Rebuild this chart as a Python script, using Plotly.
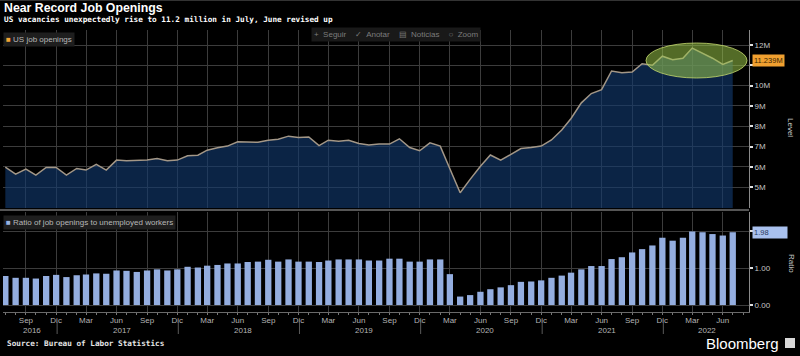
import plotly.graph_objects as go

# ---------------- data ----------------
all_months = [f"{y}-{m:02d}-01" for y in range(2016, 2023) for m in range(1, 13)]
months = all_months[all_months.index("2016-07-01"): all_months.index("2022-07-01") + 1]

# US job openings (millions)
openings = [5.98, 5.64, 5.89, 5.59, 5.97, 5.97, 5.59, 5.92, 5.84, 6.12, 5.84, 6.33,
            6.30, 6.30, 6.33, 6.41, 6.30, 6.33, 6.54, 6.57, 6.82, 6.94, 7.02, 7.23,
            7.21, 7.21, 7.31, 7.36, 7.51, 7.44, 7.47, 7.04, 7.31, 7.26, 7.31, 7.15,
            7.07, 7.12, 7.12, 7.38, 6.95, 6.79, 7.18, 7.02, 5.90, 4.72, 5.38, 6.03,
            6.58, 6.33, 6.61, 6.90, 6.95, 7.02, 7.32, 7.81, 8.38, 9.15, 9.61, 9.80,
            10.72, 10.63, 10.67, 11.08, 11.00, 11.45, 11.28, 11.35, 11.85, 11.60, 11.35, 11.04,
            11.239]

# Ratio of job openings to unemployed workers
ratio = [0.79, 0.74, 0.74, 0.72, 0.79, 0.82, 0.76, 0.81, 0.83, 0.86, 0.85, 0.94,
         0.93, 0.90, 0.94, 0.97, 0.94, 0.97, 1.04, 1.02, 1.07, 1.09, 1.13, 1.13,
         1.17, 1.18, 1.23, 1.18, 1.24, 1.18, 1.18, 1.17, 1.21, 1.24, 1.24, 1.24,
         1.21, 1.21, 1.26, 1.26, 1.18, 1.18, 1.24, 1.24, 0.84, 0.23, 0.27, 0.36,
         0.43, 0.48, 0.54, 0.63, 0.64, 0.67, 0.74, 0.80, 0.88, 0.97, 1.06, 1.06,
         1.25, 1.30, 1.43, 1.52, 1.62, 1.83, 1.75, 1.83, 2.00, 1.98, 1.93, 1.89,
         1.98]

tick_dates = months[2::3]
month_abbr = {"03": "Mar", "06": "Jun", "09": "Sep", "12": "Dic"}
tick_text = [month_abbr[d[5:7]] for d in tick_dates]

year_labels = ["2016", "2017", "2018", "2019", "2020", "2021", "2022"]
year_label_pos = ["2016-09-20", "2017-06-16", "2018-06-16", "2019-06-16",
                  "2020-06-16", "2021-06-16", "2022-04-15"]
year_sep_dates = ["2016-12-04", "2017-12-04", "2018-12-04", "2019-12-04",
                  "2020-12-04", "2021-12-04"]

level_ticks = [5, 6, 7, 8, 9, 10, 11, 12]
level_text = ["5M", "6M", "7M", "8M", "9M", "10M", "", "12M"]
ratio_ticks = [0, 1, 2]
ratio_text = ["0.00", "1.00", ""]

# ---------------- layout helpers ----------------
L, R, T, B, W, H = 3, 51, 30, 44, 800, 356
PW, PH = W - L - R, H - T - B


def px(x):
    return (x - L) / PW


def py(y):
    return (H - B - y) / PH


GRID = "#3c3c3c"
TXT = "#c4c4c4"
FONT = "Liberation Sans"
MONO = "DejaVu Sans Mono"
DAY = 86400000

fig = go.Figure()
fig.add_trace(go.Scatter(
    x=months, y=openings, mode="lines", xaxis="x", yaxis="y",
    line=dict(color="#a39787", width=1.5),
    fill="tozeroy", fillcolor="rgba(18,58,112,0.62)", hoverinfo="skip"))
fig.add_trace(go.Bar(
    x=months, y=ratio, xaxis="x2", yaxis="y2",
    width=[19 * DAY] * len(months),
    marker=dict(color="#94aee0", line_width=0), hoverinfo="skip"))

xrange = ["2016-06-24", "2022-08-19"]

fig.update_layout(
    width=W, height=H,
    margin=dict(l=L, r=R, t=T, b=B),
    paper_bgcolor="black", plot_bgcolor="black",
    showlegend=False,
    font=dict(family=FONT, color=TXT, size=8),
    xaxis=dict(domain=[0, 1], anchor="y", range=xrange, type="date",
               tickvals=tick_dates, showticklabels=False,
               showgrid=True, gridcolor=GRID, gridwidth=1,
               zeroline=False, showline=False, ticks=""),
    yaxis=dict(domain=[py(208), 1], anchor="x", side="right",
               range=[3.97, 12.74], tickvals=level_ticks, ticktext=level_text,
               showgrid=True, gridcolor=GRID, gridwidth=1, zeroline=False,
               showline=True, linecolor="#8a8a8a", linewidth=1,
               ticks="outside", ticklen=3, tickcolor="#e0e0e0", tickwidth=2,
               tickfont=dict(size=8, color=TXT)),
    xaxis2=dict(domain=[0, 1], anchor="y2", range=xrange, type="date",
                tickvals=tick_dates, ticktext=tick_text,
                tickfont=dict(size=8, color="#b4b4b4"),
                showgrid=True, gridcolor=GRID, gridwidth=1,
                zeroline=False, showline=True, linecolor="#6a6a6a", linewidth=1,
                ticks="", minor=dict(dtick="M1", ticks="outside", ticklen=2,
                                     tickcolor="#777", showgrid=False)),
    yaxis2=dict(domain=[0, py(212)], anchor="x2", side="right",
                range=[-0.19, 2.53], tickvals=ratio_ticks, ticktext=ratio_text,
                showgrid=True, gridcolor=GRID, gridwidth=1, zeroline=False,
                showline=True, linecolor="#8a8a8a", linewidth=1,
                ticks="outside", ticklen=3, tickcolor="#e0e0e0", tickwidth=2,
                tickfont=dict(size=8, color=TXT)),
)

ann = []
ann.append(dict(xref="paper", yref="paper", x=px(2), y=py(8), xanchor="left", yanchor="middle",
                text="<b>Near Record Job Openings</b>", showarrow=False,
                font=dict(family=FONT, size=12.3, color="white")))
ann.append(dict(xref="paper", yref="paper", x=px(2), y=py(19.5), xanchor="left", yanchor="middle",
                text="<b>US vacancies unexpectedly rise to 11.2 million in July, June revised up</b>",
                showarrow=False, font=dict(family=MONO, size=7.7, color="white")))
ann.append(dict(xref="paper", yref="paper", x=px(5), y=py(343), xanchor="left", yanchor="middle",
                text="<b>Source: Bureau of Labor Statistics</b>",
                showarrow=False, font=dict(family=MONO, size=7.7, color="#e6e6e6")))
ann.append(dict(xref="paper", yref="paper", x=px(781), y=py(343), xanchor="right", yanchor="middle",
                text="Bloomberg", showarrow=False,
                font=dict(family=FONT, size=15, color="white")))
ann.append(dict(xref="paper", yref="paper", x=px(3), y=py(39.5), xanchor="left", yanchor="middle",
                text="<span style='color:#f2a335'>■</span> US job openings", showarrow=False,
                bgcolor="#1e1e1e", borderpad=2, font=dict(size=8, color="#b8b8b8")))
ann.append(dict(xref="paper", yref="paper", x=px(3), y=py(222.5), xanchor="left", yanchor="middle",
                text="<span style='color:#97b1e2'>■</span> Ratio of job openings to unemployed workers",
                showarrow=False, bgcolor="#1e1e1e", borderpad=2,
                font=dict(size=8, color="#b8b8b8")))
ann.append(dict(xref="paper", yref="paper", x=px(396), y=py(34), xanchor="center", yanchor="middle",
                text="+  Seguir    ✓  Anotar    ▤  Noticias    ○  Zoom", showarrow=False,
                bgcolor="#191919", borderpad=2, font=dict(size=8, color="#7c7c7c")))
ann.append(dict(xref="paper", yref="y", x=px(752), y=11.239, xanchor="left", yanchor="middle",
                text="11.239M", showarrow=False, bgcolor="#f0a030", borderpad=1,
                font=dict(size=7.5, color="#3a2500")))
ann.append(dict(xref="paper", yref="y2", x=px(752), y=1.98, xanchor="left", yanchor="middle",
                text="1.98", showarrow=False, bgcolor="#a9c1ee", borderpad=1, width=32,
                align="left", font=dict(size=7.5, color="#2a3a5a")))
ann.append(dict(xref="paper", yref="paper", x=px(791), y=py(127), xanchor="center", yanchor="middle",
                text="Level", textangle=90, showarrow=False, font=dict(size=8, color=TXT)))
ann.append(dict(xref="paper", yref="paper", x=px(792), y=py(263), xanchor="center", yanchor="middle",
                text="Ratio", textangle=90, showarrow=False, font=dict(size=8, color=TXT)))
for lab, pos in zip(year_labels, year_label_pos):
    ann.append(dict(xref="x2", yref="paper", x=pos, y=py(330), xanchor="center", yanchor="middle",
                    text=lab, showarrow=False, font=dict(size=8, color="#b4b4b4")))
fig.update_layout(annotations=ann)

shapes = []
shapes.append(dict(type="circle", xref="paper", yref="paper",
                   x0=px(646), x1=px(747), y0=py(78), y1=py(43),
                   fillcolor="rgba(160,205,75,0.52)",
                   line=dict(color="rgba(195,215,110,0.8)", width=1), layer="above"))
shapes.append(dict(type="line", xref="paper", yref="paper",
                   x0=px(0), x1=px(749), y0=py(210), y1=py(210),
                   line=dict(color="#555555", width=2)))
shapes.append(dict(type="line", xref="paper", yref="paper",
                   x0=px(0), x1=px(800), y0=py(0.5), y1=py(0.5),
                   line=dict(color="#333333", width=1)))
for d in year_sep_dates:
    shapes.append(dict(type="line", xref="x2", yref="paper", x0=d, x1=d,
                       y0=py(322), y1=py(334), line=dict(color="#5a5a5a", width=1)))
shapes.append(dict(type="rect", xref="paper", yref="paper",
                   x0=px(785), x1=px(795), y0=py(348), y1=py(338),
                   fillcolor="#d8d8d8", line=dict(width=0)))
fig.update_layout(shapes=shapes)

fig.write_html("out.html", config={"displayModeBar": False},
               post_script="document.body.style.margin='0';document.body.style.background='black';")
